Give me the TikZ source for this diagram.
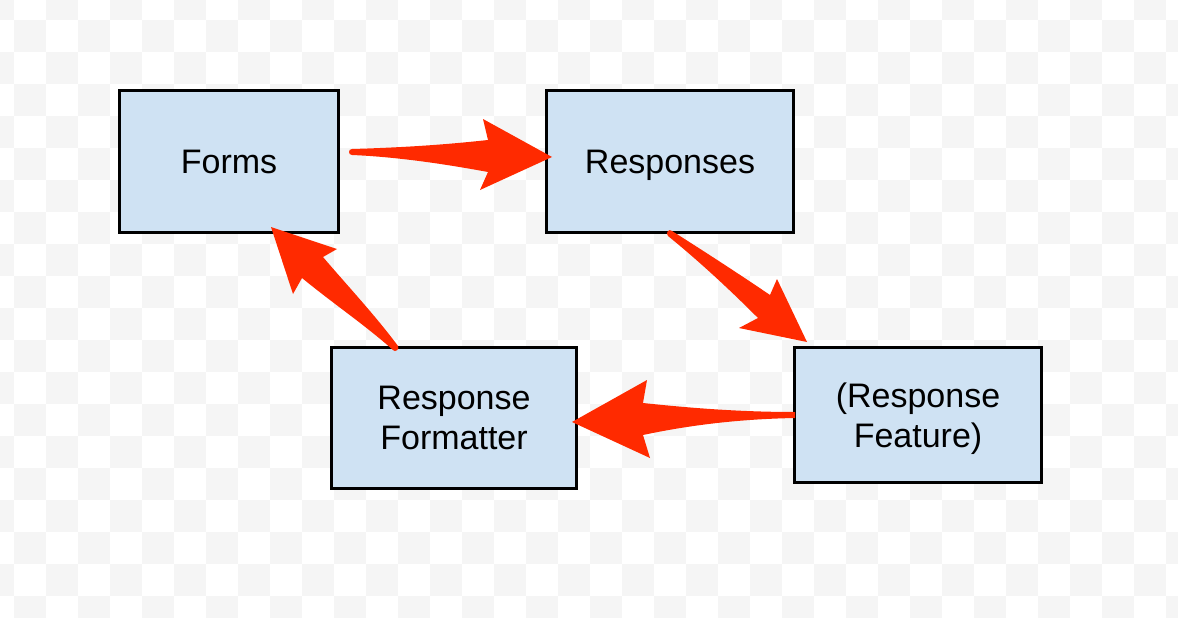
\documentclass[tikz,border=0pt]{standalone}
\usepackage{fontspec}
\setmainfont{Liberation Sans}
\definecolor{boxfill}{HTML}{CFE2F3}
\definecolor{arrred}{HTML}{FF2A00}
\definecolor{checker}{HTML}{F5F5F5}
\begin{document}
\begin{tikzpicture}[x=1pt,y=-1pt,
  box/.style={draw=black, line width=3pt, fill=boxfill, inner sep=0pt, align=center,
    text depth=0pt, font=\fontsize{34}{40}\selectfont},
  redarrow/.style={fill=arrred, draw=none}]
\useasboundingbox (0,0) rectangle (1178,618);
\fill[white] (0,0) rectangle (1178,618);
\begin{scope}
\clip (0,0) rectangle (1178,618);
\foreach \c in {0,...,37}{
  \foreach \r in {0,...,20}{
    \pgfmathtruncatemacro{\parity}{mod(\c+\r,2)}
    \ifnum\parity=0
      \fill[checker] (-18+32*\c,-12+32*\r) rectangle (14+32*\c,20+32*\r);
    \fi
  }
}
\end{scope}
% boxes
\node[box, minimum width=219pt, minimum height=142pt] (forms) at (229,161.5) {Forms};
\node[box, minimum width=247pt, minimum height=142pt] (resp) at (670,161.5) {Responses};
\node[box, minimum width=247pt, minimum height=135pt] (feat) at (918,415) {(Response\\Feature)};
\node[box, minimum width=245pt, minimum height=141pt] (fmt) at (454,418) {Response\\Formatter};
% arrows: Forms -> Responses
\fill[redarrow] (352,149) .. controls (420,147) and (460,143) .. (488,140) -- (483,119) -- (552,157) -- (480,190) -- (488,172) .. controls (450,165) and (400,157) .. (352,155) .. controls (348,155) and (348,149) .. (352,149);
% Responses -> Feature
\fill[redarrow] (672,231) .. controls (710,255) and (745,278) .. (770,295) -- (777,279) -- (807,342) -- (739,328) -- (758,318) .. controls (730,290) and (700,262) .. (668,236) .. controls (665,233) and (669,228) .. (672,231);
% Feature -> Formatter
\fill[redarrow] (795,412) .. controls (740,412) and (690,408) .. (643,403) -- (647,380) -- (572,422) -- (650,458) -- (643,435) .. controls (690,425) and (740,419) .. (795,418) -- cycle;
% Formatter -> Forms
\fill[redarrow] (398,346) .. controls (375,315) and (345,283) .. (323,257) -- (337,249) -- (271,227) -- (293,294) -- (302,278) .. controls (335,305) and (365,325) .. (393,350) .. controls (395,353) and (400,349) .. (398,346);
\end{tikzpicture}
\end{document}
